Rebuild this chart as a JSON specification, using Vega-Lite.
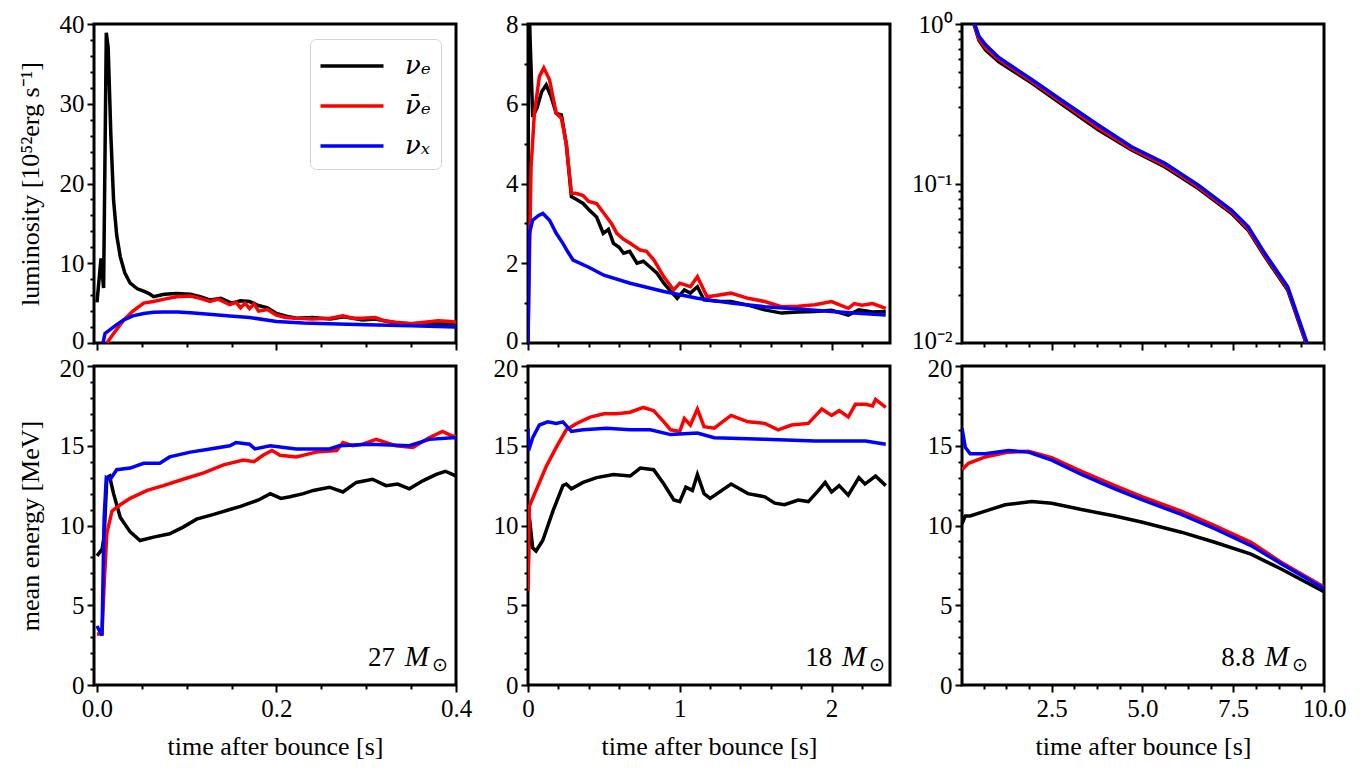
{
  "$schema": "https://vega.github.io/schema/vega-lite/v6.json",
  "background": "white",
  "padding": {"left": 15, "top": 10, "right": 10, "bottom": 5},
  "bounds": "flush",
  "columns": 3,
  "spacing": {"row": 23, "column": 72},
  "resolve": {"scale": {"x": "independent", "y": "independent", "color": "independent"}, "legend": {"color": "independent"}},
  "config": {
    "font": "Liberation Serif",
    "view": {"stroke": "black", "strokeWidth": 3},
    "axis": {"domain": false, "grid": false, "labelFont": "Liberation Serif", "labelFontSize": 25, "labelColor": "black", "titleFont": "Liberation Serif", "titleFontSize": 26, "titleFontWeight": "normal", "titleColor": "black", "tickColor": "black", "tickWidth": 2, "labelPadding": 3, "labelOverlap": false, "labelFlush": false, "labelBound": false},
    "axisX": {"titlePadding": 12, "labelPadding": 4},
    "axisY": {"titlePadding": 16},
    "line": {"strokeWidth": 3.5},
    "text": {"font": "Liberation Serif", "fontSize": 27, "color": "black"}
  },
  "datasets": {
    "lum27": [
      {"s":"a","t":0,"v":5.1},{"s":"a","t":0.0045,"v":10.6},{"s":"a","t":0.0074,"v":6.9},{"s":"a","t":0.0104,"v":38.9},{"s":"a","t":0.0125,"v":37},{"s":"a","t":0.0155,"v":26},{"s":"a","t":0.0185,"v":17.9},{"s":"a","t":0.022,"v":13.5},{"s":"a","t":0.026,"v":10.8},{"s":"a","t":0.031,"v":8.8},{"s":"a","t":0.037,"v":7.5},{"s":"a","t":0.045,"v":6.8},{"s":"a","t":0.052,"v":6.5},{"s":"a","t":0.058,"v":6.2},{"s":"a","t":0.063,"v":5.8},{"s":"a","t":0.075,"v":6.1},{"s":"a","t":0.089,"v":6.2},{"s":"a","t":0.104,"v":6.1},{"s":"a","t":0.115,"v":5.8},{"s":"a","t":0.126,"v":5.4},{"s":"a","t":0.138,"v":5.6},{"s":"a","t":0.15,"v":5.0},{"s":"a","t":0.16,"v":5.3},{"s":"a","t":0.17,"v":5.2},{"s":"a","t":0.18,"v":4.7},{"s":"a","t":0.19,"v":4.4},{"s":"a","t":0.2,"v":3.7},{"s":"a","t":0.21,"v":3.4},{"s":"a","t":0.222,"v":3.1},{"s":"a","t":0.24,"v":3.2},{"s":"a","t":0.26,"v":3.0},{"s":"a","t":0.275,"v":3.3},{"s":"a","t":0.296,"v":2.9},{"s":"a","t":0.31,"v":3.0},{"s":"a","t":0.333,"v":2.5},{"s":"a","t":0.35,"v":2.4},{"s":"a","t":0.37,"v":2.5},{"s":"a","t":0.385,"v":2.4},{"s":"a","t":0.4,"v":2.4},
      {"s":"b","t":0.011,"v":0},{"s":"b","t":0.02,"v":1.4},{"s":"b","t":0.03,"v":2.9},{"s":"b","t":0.04,"v":4.0},{"s":"b","t":0.052,"v":5.0},{"s":"b","t":0.063,"v":5.2},{"s":"b","t":0.075,"v":5.5},{"s":"b","t":0.089,"v":5.8},{"s":"b","t":0.104,"v":5.9},{"s":"b","t":0.115,"v":5.6},{"s":"b","t":0.126,"v":5.2},{"s":"b","t":0.135,"v":5.5},{"s":"b","t":0.148,"v":4.8},{"s":"b","t":0.155,"v":5.1},{"s":"b","t":0.16,"v":4.4},{"s":"b","t":0.165,"v":5.0},{"s":"b","t":0.17,"v":4.3},{"s":"b","t":0.175,"v":4.9},{"s":"b","t":0.18,"v":4.0},{"s":"b","t":0.19,"v":4.2},{"s":"b","t":0.2,"v":3.5},{"s":"b","t":0.21,"v":3.2},{"s":"b","t":0.222,"v":3.1},{"s":"b","t":0.24,"v":3.0},{"s":"b","t":0.26,"v":3.1},{"s":"b","t":0.274,"v":3.4},{"s":"b","t":0.285,"v":3.1},{"s":"b","t":0.296,"v":3.1},{"s":"b","t":0.31,"v":3.2},{"s":"b","t":0.32,"v":2.8},{"s":"b","t":0.333,"v":2.6},{"s":"b","t":0.35,"v":2.4},{"s":"b","t":0.365,"v":2.6},{"s":"b","t":0.38,"v":2.8},{"s":"b","t":0.394,"v":2.7},{"s":"b","t":0.4,"v":2.6},
      {"s":"c","t":0.0067,"v":0},{"s":"c","t":0.009,"v":1.2},{"s":"c","t":0.015,"v":1.7},{"s":"c","t":0.022,"v":2.3},{"s":"c","t":0.03,"v":2.9},{"s":"c","t":0.04,"v":3.4},{"s":"c","t":0.052,"v":3.7},{"s":"c","t":0.063,"v":3.85},{"s":"c","t":0.074,"v":3.9},{"s":"c","t":0.09,"v":3.9},{"s":"c","t":0.104,"v":3.8},{"s":"c","t":0.125,"v":3.6},{"s":"c","t":0.148,"v":3.4},{"s":"c","t":0.17,"v":3.2},{"s":"c","t":0.2,"v":2.7},{"s":"c","t":0.23,"v":2.5},{"s":"c","t":0.259,"v":2.4},{"s":"c","t":0.3,"v":2.3},{"s":"c","t":0.35,"v":2.15},{"s":"c","t":0.4,"v":2.0}
    ],
    "lum18": [
      {"s":"a","t":0,"v":0},{"s":"a","t":0.003,"v":9},{"s":"a","t":0.015,"v":7.5},{"s":"a","t":0.031,"v":5.67},{"s":"a","t":0.06,"v":5.9},{"s":"a","t":0.09,"v":6.3},{"s":"a","t":0.12,"v":6.47},{"s":"a","t":0.15,"v":6.2},{"s":"a","t":0.186,"v":5.76},{"s":"a","t":0.22,"v":5.72},{"s":"a","t":0.252,"v":5.0},{"s":"a","t":0.286,"v":3.67},{"s":"a","t":0.32,"v":3.6},{"s":"a","t":0.363,"v":3.5},{"s":"a","t":0.4,"v":3.35},{"s":"a","t":0.452,"v":3.16},{"s":"a","t":0.496,"v":2.75},{"s":"a","t":0.53,"v":2.85},{"s":"a","t":0.563,"v":2.5},{"s":"a","t":0.6,"v":2.4},{"s":"a","t":0.63,"v":2.25},{"s":"a","t":0.67,"v":2.3},{"s":"a","t":0.718,"v":2.0},{"s":"a","t":0.76,"v":2.05},{"s":"a","t":0.806,"v":1.9},{"s":"a","t":0.85,"v":1.75},{"s":"a","t":0.895,"v":1.5},{"s":"a","t":0.94,"v":1.3},{"s":"a","t":0.983,"v":1.12},{"s":"a","t":1.03,"v":1.33},{"s":"a","t":1.07,"v":1.25},{"s":"a","t":1.116,"v":1.41},{"s":"a","t":1.16,"v":1.08},{"s":"a","t":1.25,"v":1.05},{"s":"a","t":1.337,"v":1.04},{"s":"a","t":1.45,"v":0.95},{"s":"a","t":1.56,"v":0.83},{"s":"a","t":1.67,"v":0.75},{"s":"a","t":1.78,"v":0.78},{"s":"a","t":1.89,"v":0.79},{"s":"a","t":2.0,"v":0.82},{"s":"a","t":2.11,"v":0.7},{"s":"a","t":2.18,"v":0.83},{"s":"a","t":2.27,"v":0.78},{"s":"a","t":2.357,"v":0.79},
      {"s":"b","t":0,"v":0},{"s":"b","t":0.02,"v":4.4},{"s":"b","t":0.042,"v":5.76},{"s":"b","t":0.075,"v":6.68},{"s":"b","t":0.104,"v":6.9},{"s":"b","t":0.142,"v":6.6},{"s":"b","t":0.186,"v":5.76},{"s":"b","t":0.22,"v":5.64},{"s":"b","t":0.252,"v":5.0},{"s":"b","t":0.286,"v":3.76},{"s":"b","t":0.32,"v":3.75},{"s":"b","t":0.363,"v":3.7},{"s":"b","t":0.4,"v":3.55},{"s":"b","t":0.452,"v":3.5},{"s":"b","t":0.518,"v":3.16},{"s":"b","t":0.55,"v":3.0},{"s":"b","t":0.585,"v":2.75},{"s":"b","t":0.63,"v":2.6},{"s":"b","t":0.673,"v":2.5},{"s":"b","t":0.74,"v":2.33},{"s":"b","t":0.78,"v":2.3},{"s":"b","t":0.83,"v":2.08},{"s":"b","t":0.895,"v":1.66},{"s":"b","t":0.96,"v":1.33},{"s":"b","t":1.0,"v":1.5},{"s":"b","t":1.07,"v":1.41},{"s":"b","t":1.116,"v":1.66},{"s":"b","t":1.18,"v":1.16},{"s":"b","t":1.25,"v":1.2},{"s":"b","t":1.337,"v":1.25},{"s":"b","t":1.45,"v":1.12},{"s":"b","t":1.56,"v":1.04},{"s":"b","t":1.67,"v":0.91},{"s":"b","t":1.78,"v":0.92},{"s":"b","t":1.89,"v":0.96},{"s":"b","t":2.0,"v":1.04},{"s":"b","t":2.11,"v":0.87},{"s":"b","t":2.15,"v":0.99},{"s":"b","t":2.2,"v":0.95},{"s":"b","t":2.27,"v":0.99},{"s":"b","t":2.357,"v":0.87},
      {"s":"c","t":0,"v":0},{"s":"c","t":0.009,"v":2.75},{"s":"c","t":0.031,"v":3.08},{"s":"c","t":0.07,"v":3.2},{"s":"c","t":0.098,"v":3.25},{"s":"c","t":0.142,"v":3.08},{"s":"c","t":0.186,"v":2.75},{"s":"c","t":0.23,"v":2.5},{"s":"c","t":0.26,"v":2.3},{"s":"c","t":0.297,"v":2.08},{"s":"c","t":0.4,"v":1.9},{"s":"c","t":0.5,"v":1.7},{"s":"c","t":0.673,"v":1.5},{"s":"c","t":0.895,"v":1.29},{"s":"c","t":1.116,"v":1.12},{"s":"c","t":1.337,"v":1.0},{"s":"c","t":1.56,"v":0.91},{"s":"c","t":1.78,"v":0.85},{"s":"c","t":2.0,"v":0.79},{"s":"c","t":2.2,"v":0.74},{"s":"c","t":2.357,"v":0.7}
    ],
    "lum88": [
      {"s":"a","t":0.25,"v":1.3},{"s":"a","t":0.357,"v":1.0},{"s":"a","t":0.495,"v":0.79},{"s":"a","t":0.68,"v":0.687},{"s":"a","t":1.044,"v":0.58},{"s":"a","t":1.96,"v":0.425},{"s":"a","t":2.876,"v":0.303},{"s":"a","t":3.79,"v":0.216},{"s":"a","t":4.7,"v":0.162},{"s":"a","t":5.62,"v":0.127},{"s":"a","t":6.54,"v":0.093},{"s":"a","t":7.45,"v":0.065},{"s":"a","t":7.91,"v":0.051},{"s":"a","t":8.37,"v":0.0348},{"s":"a","t":9.0,"v":0.0215},{"s":"a","t":9.49,"v":0.0102},{"s":"a","t":9.6,"v":0.0085},
      {"s":"b","t":0.25,"v":1.35},{"s":"b","t":0.37,"v":1.0},{"s":"b","t":0.495,"v":0.81},{"s":"b","t":0.68,"v":0.71},{"s":"b","t":1.044,"v":0.6},{"s":"b","t":1.96,"v":0.435},{"s":"b","t":2.876,"v":0.311},{"s":"b","t":3.79,"v":0.223},{"s":"b","t":4.7,"v":0.165},{"s":"b","t":5.62,"v":0.13},{"s":"b","t":6.54,"v":0.095},{"s":"b","t":7.45,"v":0.0665},{"s":"b","t":7.91,"v":0.052},{"s":"b","t":8.37,"v":0.0355},{"s":"b","t":9.0,"v":0.022},{"s":"b","t":9.5,"v":0.0102},{"s":"b","t":9.6,"v":0.0086},
      {"s":"c","t":0.25,"v":1.4},{"s":"c","t":0.38,"v":1.0},{"s":"c","t":0.495,"v":0.841},{"s":"c","t":0.68,"v":0.741},{"s":"c","t":1.044,"v":0.617},{"s":"c","t":1.96,"v":0.447},{"s":"c","t":2.876,"v":0.321},{"s":"c","t":3.79,"v":0.232},{"s":"c","t":4.7,"v":0.17},{"s":"c","t":5.62,"v":0.134},{"s":"c","t":6.54,"v":0.0977},{"s":"c","t":7.45,"v":0.0682},{"s":"c","t":7.91,"v":0.0537},{"s":"c","t":8.37,"v":0.0365},{"s":"c","t":9.0,"v":0.0225},{"s":"c","t":9.52,"v":0.0102},{"s":"c","t":9.62,"v":0.0088}
    ],
    "e27": [
      {"s":"a","t":0,"v":8.1},{"s":"a","t":0.0056,"v":8.5},{"s":"a","t":0.008,"v":9.3},{"s":"a","t":0.011,"v":13.0},{"s":"a","t":0.014,"v":13.1},{"s":"a","t":0.0185,"v":12.0},{"s":"a","t":0.026,"v":10.5},{"s":"a","t":0.037,"v":9.6},{"s":"a","t":0.048,"v":9.06},{"s":"a","t":0.063,"v":9.27},{"s":"a","t":0.081,"v":9.48},{"s":"a","t":0.096,"v":9.9},{"s":"a","t":0.111,"v":10.4},{"s":"a","t":0.13,"v":10.7},{"s":"a","t":0.148,"v":11.0},{"s":"a","t":0.16,"v":11.2},{"s":"a","t":0.17,"v":11.4},{"s":"a","t":0.18,"v":11.6},{"s":"a","t":0.193,"v":12.0},{"s":"a","t":0.205,"v":11.7},{"s":"a","t":0.215,"v":11.8},{"s":"a","t":0.23,"v":12.0},{"s":"a","t":0.241,"v":12.2},{"s":"a","t":0.259,"v":12.4},{"s":"a","t":0.274,"v":12.1},{"s":"a","t":0.289,"v":12.7},{"s":"a","t":0.307,"v":12.9},{"s":"a","t":0.322,"v":12.5},{"s":"a","t":0.335,"v":12.6},{"s":"a","t":0.348,"v":12.3},{"s":"a","t":0.363,"v":12.8},{"s":"a","t":0.378,"v":13.2},{"s":"a","t":0.388,"v":13.4},{"s":"a","t":0.396,"v":13.2},{"s":"a","t":0.4,"v":13.1},
      {"s":"b","t":0,"v":3.2},{"s":"b","t":0.0056,"v":3.2},{"s":"b","t":0.008,"v":6.3},{"s":"b","t":0.011,"v":9.5},{"s":"b","t":0.0167,"v":10.9},{"s":"b","t":0.026,"v":11.3},{"s":"b","t":0.037,"v":11.7},{"s":"b","t":0.056,"v":12.2},{"s":"b","t":0.074,"v":12.5},{"s":"b","t":0.096,"v":12.9},{"s":"b","t":0.119,"v":13.3},{"s":"b","t":0.141,"v":13.8},{"s":"b","t":0.163,"v":14.1},{"s":"b","t":0.175,"v":14.0},{"s":"b","t":0.185,"v":14.4},{"s":"b","t":0.195,"v":14.7},{"s":"b","t":0.204,"v":14.4},{"s":"b","t":0.222,"v":14.3},{"s":"b","t":0.244,"v":14.6},{"s":"b","t":0.267,"v":14.7},{"s":"b","t":0.274,"v":15.2},{"s":"b","t":0.285,"v":15.0},{"s":"b","t":0.296,"v":15.1},{"s":"b","t":0.311,"v":15.4},{"s":"b","t":0.333,"v":15.0},{"s":"b","t":0.352,"v":14.9},{"s":"b","t":0.37,"v":15.5},{"s":"b","t":0.385,"v":15.9},{"s":"b","t":0.396,"v":15.6},{"s":"b","t":0.4,"v":15.6},
      {"s":"c","t":0,"v":3.7},{"s":"c","t":0.0056,"v":3.1},{"s":"c","t":0.008,"v":10.5},{"s":"c","t":0.0104,"v":13.0},{"s":"c","t":0.0148,"v":12.9},{"s":"c","t":0.022,"v":13.5},{"s":"c","t":0.037,"v":13.6},{"s":"c","t":0.052,"v":13.9},{"s":"c","t":0.07,"v":13.9},{"s":"c","t":0.081,"v":14.3},{"s":"c","t":0.104,"v":14.6},{"s":"c","t":0.126,"v":14.8},{"s":"c","t":0.148,"v":15.0},{"s":"c","t":0.155,"v":15.2},{"s":"c","t":0.17,"v":15.1},{"s":"c","t":0.176,"v":14.8},{"s":"c","t":0.193,"v":15.0},{"s":"c","t":0.222,"v":14.8},{"s":"c","t":0.259,"v":14.8},{"s":"c","t":0.27,"v":15.0},{"s":"c","t":0.304,"v":15.1},{"s":"c","t":0.348,"v":15.0},{"s":"c","t":0.37,"v":15.4},{"s":"c","t":0.396,"v":15.5},{"s":"c","t":0.4,"v":15.5}
    ],
    "e18": [
      {"s":"a","t":0,"v":6.5},{"s":"a","t":0.009,"v":10.5},{"s":"a","t":0.031,"v":8.6},{"s":"a","t":0.053,"v":8.4},{"s":"a","t":0.097,"v":9.06},{"s":"a","t":0.164,"v":10.9},{"s":"a","t":0.23,"v":12.5},{"s":"a","t":0.252,"v":12.6},{"s":"a","t":0.286,"v":12.3},{"s":"a","t":0.363,"v":12.7},{"s":"a","t":0.452,"v":13.0},{"s":"a","t":0.563,"v":13.2},{"s":"a","t":0.673,"v":13.1},{"s":"a","t":0.74,"v":13.6},{"s":"a","t":0.828,"v":13.5},{"s":"a","t":0.895,"v":12.6},{"s":"a","t":0.961,"v":11.6},{"s":"a","t":1.0,"v":11.5},{"s":"a","t":1.04,"v":12.4},{"s":"a","t":1.083,"v":12.2},{"s":"a","t":1.116,"v":13.2},{"s":"a","t":1.16,"v":12.0},{"s":"a","t":1.2,"v":11.7},{"s":"a","t":1.338,"v":12.6},{"s":"a","t":1.449,"v":12.0},{"s":"a","t":1.56,"v":11.8},{"s":"a","t":1.626,"v":11.4},{"s":"a","t":1.69,"v":11.3},{"s":"a","t":1.78,"v":11.6},{"s":"a","t":1.847,"v":11.5},{"s":"a","t":1.914,"v":12.2},{"s":"a","t":1.958,"v":12.7},{"s":"a","t":2.0,"v":12.1},{"s":"a","t":2.05,"v":12.5},{"s":"a","t":2.11,"v":11.9},{"s":"a","t":2.18,"v":13.0},{"s":"a","t":2.22,"v":12.6},{"s":"a","t":2.29,"v":13.1},{"s":"a","t":2.357,"v":12.5},
      {"s":"b","t":0,"v":5.9},{"s":"b","t":0.009,"v":11.2},{"s":"b","t":0.053,"v":12.2},{"s":"b","t":0.12,"v":13.7},{"s":"b","t":0.186,"v":14.9},{"s":"b","t":0.252,"v":16.0},{"s":"b","t":0.32,"v":16.4},{"s":"b","t":0.41,"v":16.8},{"s":"b","t":0.5,"v":17.0},{"s":"b","t":0.585,"v":17.0},{"s":"b","t":0.673,"v":17.1},{"s":"b","t":0.76,"v":17.4},{"s":"b","t":0.828,"v":17.2},{"s":"b","t":0.895,"v":16.5},{"s":"b","t":0.94,"v":16.0},{"s":"b","t":1.0,"v":15.9},{"s":"b","t":1.03,"v":16.7},{"s":"b","t":1.07,"v":16.3},{"s":"b","t":1.116,"v":17.3},{"s":"b","t":1.16,"v":16.2},{"s":"b","t":1.227,"v":16.1},{"s":"b","t":1.338,"v":16.9},{"s":"b","t":1.449,"v":16.5},{"s":"b","t":1.56,"v":16.4},{"s":"b","t":1.648,"v":16.0},{"s":"b","t":1.736,"v":16.3},{"s":"b","t":1.847,"v":16.4},{"s":"b","t":1.936,"v":17.3},{"s":"b","t":2.0,"v":16.9},{"s":"b","t":2.05,"v":17.2},{"s":"b","t":2.11,"v":16.8},{"s":"b","t":2.157,"v":17.6},{"s":"b","t":2.224,"v":17.6},{"s":"b","t":2.27,"v":17.5},{"s":"b","t":2.29,"v":17.9},{"s":"b","t":2.357,"v":17.4},
      {"s":"c","t":0,"v":16.1},{"s":"c","t":0.004,"v":14.7},{"s":"c","t":0.031,"v":15.5},{"s":"c","t":0.075,"v":16.3},{"s":"c","t":0.13,"v":16.5},{"s":"c","t":0.186,"v":16.4},{"s":"c","t":0.23,"v":16.5},{"s":"c","t":0.286,"v":15.9},{"s":"c","t":0.363,"v":16.0},{"s":"c","t":0.518,"v":16.1},{"s":"c","t":0.673,"v":16.0},{"s":"c","t":0.806,"v":16.0},{"s":"c","t":0.94,"v":15.7},{"s":"c","t":1.116,"v":15.8},{"s":"c","t":1.227,"v":15.5},{"s":"c","t":1.56,"v":15.4},{"s":"c","t":1.89,"v":15.3},{"s":"c","t":2.224,"v":15.3},{"s":"c","t":2.357,"v":15.1}
    ],
    "e88": [
      {"s":"a","t":0.03,"v":10.1},{"s":"a","t":0.12,"v":10.6},{"s":"a","t":0.256,"v":10.6},{"s":"a","t":0.67,"v":10.9},{"s":"a","t":1.218,"v":11.3},{"s":"a","t":1.95,"v":11.5},{"s":"a","t":2.5,"v":11.4},{"s":"a","t":3.32,"v":11.0},{"s":"a","t":4.24,"v":10.6},{"s":"a","t":5.0,"v":10.2},{"s":"a","t":6.07,"v":9.58},{"s":"a","t":6.99,"v":8.95},{"s":"a","t":7.99,"v":8.2},{"s":"a","t":8.82,"v":7.27},{"s":"a","t":10.0,"v":5.85},
      {"s":"b","t":0.03,"v":13.5},{"s":"b","t":0.21,"v":13.9},{"s":"b","t":0.67,"v":14.3},{"s":"b","t":1.31,"v":14.6},{"s":"b","t":1.86,"v":14.65},{"s":"b","t":2.5,"v":14.25},{"s":"b","t":3.32,"v":13.4},{"s":"b","t":4.24,"v":12.5},{"s":"b","t":5.0,"v":11.8},{"s":"b","t":6.07,"v":10.9},{"s":"b","t":6.99,"v":10.0},{"s":"b","t":7.99,"v":8.95},{"s":"b","t":8.82,"v":7.7},{"s":"b","t":10.0,"v":6.15},
      {"s":"c","t":0.03,"v":16.1},{"s":"c","t":0.12,"v":14.9},{"s":"c","t":0.256,"v":14.5},{"s":"c","t":0.67,"v":14.5},{"s":"c","t":1.31,"v":14.7},{"s":"c","t":1.86,"v":14.6},{"s":"c","t":2.5,"v":14.1},{"s":"c","t":3.32,"v":13.2},{"s":"c","t":4.24,"v":12.3},{"s":"c","t":5.0,"v":11.6},{"s":"c","t":6.07,"v":10.7},{"s":"c","t":6.99,"v":9.8},{"s":"c","t":7.99,"v":8.74},{"s":"c","t":8.82,"v":7.6},{"s":"c","t":10.0,"v":6.05}
    ]
  },
  "concat": [
    {
      "width": 362, "height": 319,
      "data": {"name": "lum27"},
      "mark": {"type": "line", "clip": true},
      "encoding": {
        "x": {"field": "t", "type": "quantitative", "scale": {"domain": [-0.0033, 0.4], "nice": false, "zero": false},
          "axis": {"title": null, "labels": false, "values": [0,0.05,0.1,0.15,0.2,0.25,0.3,0.35,0.4],
            "tickSize": {"condition": {"test": "abs(datum.value*5-round(datum.value*5))<1e-6", "value": 7}, "value": 4}}},
        "y": {"field": "v", "type": "quantitative", "scale": {"domain": [0, 40], "nice": false},
          "axis": {"title": "luminosity [10⁵²erg s⁻¹]", "labelOverlap": false, "format": "d", "values": [0,2,4,6,8,10,12,14,16,18,20,22,24,26,28,30,32,34,36,38,40],
            "labelExpr": "datum.value % 10 === 0 ? datum.label : ''",
            "labelOffset": {"condition": {"test": "datum.value === 0", "value": -3}, "value": 0},
            "tickSize": {"condition": {"test": "datum.value % 10 === 0", "value": 7}, "value": 4}}},
        "color": {"field": "s", "type": "nominal", "scale": {"domain": ["a","b","c"], "range": ["#000000","#ff0000","#0000ff"]},
          "legend": {"orient": "top-right", "offset": 15, "title": null, "symbolType": "M-2.1,0H2.1", "symbolSize": 900, "symbolStrokeWidth": 3.5, "symbolOffset": 15,
            "labelFont": "DejaVu Serif", "labelFontSize": 26, "labelFontStyle": "italic", "labelColor": "black",
            "fillColor": "white", "strokeColor": "#d4d4d4", "cornerRadius": 6, "padding": 10, "rowPadding": 10, "labelOffset": 36,
            "labelExpr": "datum.label === 'a' ? 'νₑ' : datum.label === 'b' ? 'ν̄ₑ' : 'νₓ'"}}
      }
    },
    {
      "width": 362, "height": 319,
      "data": {"name": "lum18"},
      "mark": {"type": "line", "clip": true},
      "encoding": {
        "x": {"field": "t", "type": "quantitative", "scale": {"domain": [0, 2.385], "nice": false, "zero": false},
          "axis": {"title": null, "labels": false, "values": [0,0.2,0.4,0.6,0.8,1,1.2,1.4,1.6,1.8,2,2.2],
            "tickSize": {"condition": {"test": "abs(datum.value-round(datum.value))<1e-6", "value": 7}, "value": 4}}},
        "y": {"field": "v", "type": "quantitative", "scale": {"domain": [0, 8], "nice": false},
          "axis": {"title": null, "labelOverlap": false, "format": "d", "values": [0,0.5,1,1.5,2,2.5,3,3.5,4,4.5,5,5.5,6,6.5,7,7.5,8],
            "labelExpr": "datum.value % 2 === 0 ? datum.label : ''",
            "labelOffset": {"condition": {"test": "datum.value === 0", "value": -3}, "value": 0},
            "tickSize": {"condition": {"test": "datum.value % 2 === 0", "value": 7}, "value": 4}}},
        "color": {"field": "s", "type": "nominal", "scale": {"domain": ["a","b","c"], "range": ["#000000","#ff0000","#0000ff"]}, "legend": null}
      }
    },
    {
      "width": 362, "height": 319,
      "data": {"name": "lum88"},
      "mark": {"type": "line", "clip": true},
      "encoding": {
        "x": {"field": "t", "type": "quantitative", "scale": {"domain": [0.03, 10], "nice": false, "zero": false},
          "axis": {"title": null, "labels": false, "values": [0.625,1.25,1.875,2.5,3.125,3.75,4.375,5,5.625,6.25,6.875,7.5,8.125,8.75,9.375,10],
            "tickSize": {"condition": {"test": "abs(datum.value/2.5-round(datum.value/2.5))<1e-6", "value": 7}, "value": 4}}},
        "y": {"field": "v", "type": "quantitative", "scale": {"type": "log", "domain": [0.01, 1], "nice": false},
          "axis": {"title": null, "labelOverlap": false, "values": [0.01,0.02,0.03,0.04,0.05,0.06,0.07,0.08,0.09,0.1,0.2,0.3,0.4,0.5,0.6,0.7,0.8,0.9,1],
            "labelExpr": "abs(datum.value-1)<1e-9 ? '10⁰' : abs(datum.value-0.1)<1e-9 ? '10⁻¹' : abs(datum.value-0.01)<1e-9 ? '10⁻²' : ''",
            "labelOffset": {"condition": {"test": "abs(datum.value-0.01)<1e-9", "value": -3}, "value": 0},
            "tickSize": {"condition": {"test": "abs(datum.value-1)<1e-9 || abs(datum.value-0.1)<1e-9 || abs(datum.value-0.01)<1e-9", "value": 7}, "value": 4}}},
        "color": {"field": "s", "type": "nominal", "scale": {"domain": ["a","b","c"], "range": ["#000000","#ff0000","#0000ff"]}, "legend": null}
      }
    },
    {
      "width": 362, "height": 319,
      "layer": [
        {
          "data": {"name": "e27"},
          "mark": {"type": "line", "clip": true},
          "encoding": {
            "x": {"field": "t", "type": "quantitative", "scale": {"domain": [-0.0033, 0.4], "nice": false, "zero": false},
              "axis": {"title": "time after bounce [s]", "labelOverlap": false, "format": ".1f", "values": [0,0.05,0.1,0.15,0.2,0.25,0.3,0.35,0.4],
                "labelExpr": "abs(datum.value*5-round(datum.value*5))<1e-6 ? datum.label : ''",
                "tickSize": {"condition": {"test": "abs(datum.value*5-round(datum.value*5))<1e-6", "value": 7}, "value": 4}}},
            "y": {"field": "v", "type": "quantitative", "scale": {"domain": [0, 20], "nice": false},
              "axis": {"title": "mean energy [MeV]", "labelOverlap": false, "format": "d", "values": [0,1,2,3,4,5,6,7,8,9,10,11,12,13,14,15,16,17,18,19,20],
                "labelExpr": "datum.value % 5 === 0 ? datum.label : ''",
                "labelOffset": {"condition": {"test": "datum.value === 20", "value": 2}, "value": 0},
                "tickSize": {"condition": {"test": "datum.value % 5 === 0", "value": 7}, "value": 4}}},
            "color": {"field": "s", "type": "nominal", "scale": {"domain": ["a","b","c"], "range": ["#000000","#ff0000","#0000ff"]}, "legend": null}
          }
        },
        {
          "data": {"values": [{"n": "27", "m": "M", "o": "⊙"}]},
          "encoding": {
            "x": {"datum": 0.391, "type": "quantitative",
              "axis": {"title": "time after bounce [s]", "labelOverlap": false, "format": ".1f", "values": [0,0.05,0.1,0.15,0.2,0.25,0.3,0.35,0.4],
                "labelExpr": "abs(datum.value*5-round(datum.value*5))<1e-6 ? datum.label : ''",
                "tickSize": {"condition": {"test": "abs(datum.value*5-round(datum.value*5))<1e-6", "value": 7}, "value": 4}}},
            "y": {"datum": 1.2, "type": "quantitative",
              "axis": {"title": "mean energy [MeV]", "labelOverlap": false, "format": "d", "values": [0,1,2,3,4,5,6,7,8,9,10,11,12,13,14,15,16,17,18,19,20],
                "labelExpr": "datum.value % 5 === 0 ? datum.label : ''",
                "labelOffset": {"condition": {"test": "datum.value === 20", "value": 2}, "value": 0},
                "tickSize": {"condition": {"test": "datum.value % 5 === 0", "value": 7}, "value": 4}}}
          },
          "layer": [
            {"mark": {"type": "text", "align": "right", "baseline": "alphabetic", "dx": -53}, "encoding": {"text": {"field": "n"}}},
            {"mark": {"type": "text", "align": "right", "baseline": "alphabetic", "dx": -19, "fontStyle": "italic", "fontSize": 29}, "encoding": {"text": {"field": "m"}}},
            {"mark": {"type": "text", "align": "right", "baseline": "alphabetic", "dy": 5, "fontSize": 19}, "encoding": {"text": {"field": "o"}}}
          ]
        }
      ]
    },
    {
      "width": 362, "height": 319,
      "layer": [
        {
          "data": {"name": "e18"},
          "mark": {"type": "line", "clip": true},
          "encoding": {
            "x": {"field": "t", "type": "quantitative", "scale": {"domain": [0, 2.385], "nice": false, "zero": false},
              "axis": {"title": "time after bounce [s]", "labelOverlap": false, "values": [0,0.2,0.4,0.6,0.8,1,1.2,1.4,1.6,1.8,2,2.2],
                "labelExpr": "abs(datum.value-round(datum.value))<1e-6 ? '' + round(datum.value) : ''",
                "tickSize": {"condition": {"test": "abs(datum.value-round(datum.value))<1e-6", "value": 7}, "value": 4}}},
            "y": {"field": "v", "type": "quantitative", "scale": {"domain": [0, 20], "nice": false},
              "axis": {"title": null, "labelOverlap": false, "format": "d", "values": [0,1,2,3,4,5,6,7,8,9,10,11,12,13,14,15,16,17,18,19,20],
                "labelExpr": "datum.value % 5 === 0 ? datum.label : ''",
                "labelOffset": {"condition": {"test": "datum.value === 20", "value": 2}, "value": 0},
                "tickSize": {"condition": {"test": "datum.value % 5 === 0", "value": 7}, "value": 4}}},
            "color": {"field": "s", "type": "nominal", "scale": {"domain": ["a","b","c"], "range": ["#000000","#ff0000","#0000ff"]}, "legend": null}
          }
        },
        {
          "data": {"values": [{"n": "18", "m": "M", "o": "⊙"}]},
          "encoding": {
            "x": {"datum": 2.353, "type": "quantitative",
              "axis": {"title": "time after bounce [s]", "labelOverlap": false, "values": [0,0.2,0.4,0.6,0.8,1,1.2,1.4,1.6,1.8,2,2.2],
                "labelExpr": "abs(datum.value-round(datum.value))<1e-6 ? '' + round(datum.value) : ''",
                "tickSize": {"condition": {"test": "abs(datum.value-round(datum.value))<1e-6", "value": 7}, "value": 4}}},
            "y": {"datum": 1.2, "type": "quantitative",
              "axis": {"title": null, "labelOverlap": false, "format": "d", "values": [0,1,2,3,4,5,6,7,8,9,10,11,12,13,14,15,16,17,18,19,20],
                "labelExpr": "datum.value % 5 === 0 ? datum.label : ''",
                "labelOffset": {"condition": {"test": "datum.value === 20", "value": 2}, "value": 0},
                "tickSize": {"condition": {"test": "datum.value % 5 === 0", "value": 7}, "value": 4}}}
          },
          "layer": [
            {"mark": {"type": "text", "align": "right", "baseline": "alphabetic", "dx": -53}, "encoding": {"text": {"field": "n"}}},
            {"mark": {"type": "text", "align": "right", "baseline": "alphabetic", "dx": -19, "fontStyle": "italic", "fontSize": 29}, "encoding": {"text": {"field": "m"}}},
            {"mark": {"type": "text", "align": "right", "baseline": "alphabetic", "dy": 5, "fontSize": 19}, "encoding": {"text": {"field": "o"}}}
          ]
        }
      ]
    },
    {
      "width": 362, "height": 319,
      "layer": [
        {
          "data": {"name": "e88"},
          "mark": {"type": "line", "clip": true},
          "encoding": {
            "x": {"field": "t", "type": "quantitative", "scale": {"domain": [0.03, 10], "nice": false, "zero": false},
              "axis": {"title": "time after bounce [s]", "labelOverlap": false, "format": ".1f", "values": [0.625,1.25,1.875,2.5,3.125,3.75,4.375,5,5.625,6.25,6.875,7.5,8.125,8.75,9.375,10],
                "labelExpr": "abs(datum.value/2.5-round(datum.value/2.5))<1e-6 ? datum.label : ''",
                "tickSize": {"condition": {"test": "abs(datum.value/2.5-round(datum.value/2.5))<1e-6", "value": 7}, "value": 4}}},
            "y": {"field": "v", "type": "quantitative", "scale": {"domain": [0, 20], "nice": false},
              "axis": {"title": null, "labelOverlap": false, "format": "d", "values": [0,1,2,3,4,5,6,7,8,9,10,11,12,13,14,15,16,17,18,19,20],
                "labelExpr": "datum.value % 5 === 0 ? datum.label : ''",
                "labelOffset": {"condition": {"test": "datum.value === 20", "value": 2}, "value": 0},
                "tickSize": {"condition": {"test": "datum.value % 5 === 0", "value": 7}, "value": 4}}},
            "color": {"field": "s", "type": "nominal", "scale": {"domain": ["a","b","c"], "range": ["#000000","#ff0000","#0000ff"]}, "legend": null}
          }
        },
        {
          "data": {"values": [{"n": "8.8", "m": "M", "o": "⊙"}]},
          "encoding": {
            "x": {"datum": 9.56, "type": "quantitative",
              "axis": {"title": "time after bounce [s]", "labelOverlap": false, "format": ".1f", "values": [0.625,1.25,1.875,2.5,3.125,3.75,4.375,5,5.625,6.25,6.875,7.5,8.125,8.75,9.375,10],
                "labelExpr": "abs(datum.value/2.5-round(datum.value/2.5))<1e-6 ? datum.label : ''",
                "tickSize": {"condition": {"test": "abs(datum.value/2.5-round(datum.value/2.5))<1e-6", "value": 7}, "value": 4}}},
            "y": {"datum": 1.2, "type": "quantitative",
              "axis": {"title": null, "labelOverlap": false, "format": "d", "values": [0,1,2,3,4,5,6,7,8,9,10,11,12,13,14,15,16,17,18,19,20],
                "labelExpr": "datum.value % 5 === 0 ? datum.label : ''",
                "labelOffset": {"condition": {"test": "datum.value === 20", "value": 2}, "value": 0},
                "tickSize": {"condition": {"test": "datum.value % 5 === 0", "value": 7}, "value": 4}}}
          },
          "layer": [
            {"mark": {"type": "text", "align": "right", "baseline": "alphabetic", "dx": -53}, "encoding": {"text": {"field": "n"}}},
            {"mark": {"type": "text", "align": "right", "baseline": "alphabetic", "dx": -19, "fontStyle": "italic", "fontSize": 29}, "encoding": {"text": {"field": "m"}}},
            {"mark": {"type": "text", "align": "right", "baseline": "alphabetic", "dy": 5, "fontSize": 19}, "encoding": {"text": {"field": "o"}}}
          ]
        }
      ]
    }
  ]
}
